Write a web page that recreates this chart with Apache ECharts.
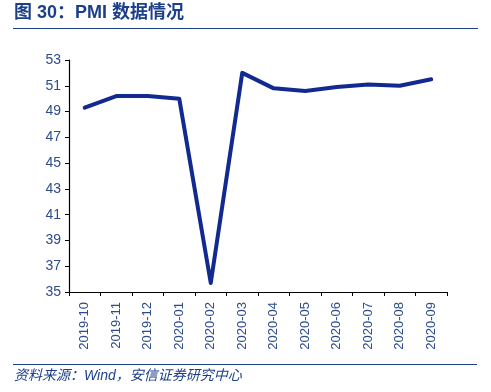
<!DOCTYPE html>
<html><head><meta charset="utf-8">
<script src="https://cdn.jsdelivr.net/npm/echarts@6/dist/echarts.min.js"></script>
<style>html,body{margin:0;padding:0;background:#fff}#c{width:491px;height:392px}</style>
</head><body><div id="c"></div>
<script>
const categories = ['2019-10','2019-11','2019-12','2020-01','2020-02','2020-03','2020-04','2020-05','2020-06','2020-07','2020-08','2020-09'];
const pmi = [49.3, 50.2, 50.2, 50.0, 35.7, 52.0, 50.8, 50.6, 50.9, 51.1, 51.0, 51.5];
const yTicks = [35, 37, 39, 41, 43, 45, 47, 49, 51, 53];
const titleText = '图 30：PMI 数据情况';
const sourceText = '资料来源：Wind，安信证券研究中心';

const chart = echarts.init(document.getElementById('c'), null, {renderer:'canvas'});
chart.setOption({
  animation:false,
  backgroundColor:'#fff',
  graphic:[
    {type:'text', left:14, top:4, style:{text:titleText, font:'bold 18px "Liberation Sans", "Noto Sans CJK SC", sans-serif', fill:'#1b3f8b'}},
    {type:'line', shape:{x1:13,y1:28.5,x2:478,y2:28.5}, style:{stroke:'#1b3f8b', lineWidth:1.2}},
    {type:'line', shape:{x1:13,y1:364.5,x2:477,y2:364.5}, style:{stroke:'#1b3f8b', lineWidth:1.2}},
    {type:'text', left:14, top:369, style:{text:sourceText, font:'italic 14px "Liberation Sans", "Noto Sans CJK SC", sans-serif', fill:'#1b3f8b'}}
  ],
  grid:{left:69, right:44, top:60, bottom:100, containLabel:false},
  xAxis:{
    type:'category', data:categories, boundaryGap:true,
    axisLine:{lineStyle:{color:'#000', width:1.2}},
    axisTick:{show:true, inside:false, length:4, alignWithLabel:false, lineStyle:{color:'#000'}},
    axisLabel:{rotate:90, margin:10, color:'#2c4c8c', fontSize:13, fontFamily:'"Liberation Sans", Arial, sans-serif', interval:0},
    splitLine:{show:false}
  },
  yAxis:{
    type:'value', min:yTicks[0], max:yTicks[yTicks.length-1], interval:2,
    axisLine:{show:true, lineStyle:{color:'#000', width:1.2}},
    axisTick:{show:true, inside:false, length:4, lineStyle:{color:'#000'}},
    axisLabel:{color:'#2c4c8c', fontSize:14, fontFamily:'"Liberation Sans", Arial, sans-serif', margin:8},
    splitLine:{show:false}
  },
  series:[{
    type:'line', data:pmi, symbol:'none', smooth:false,
    lineStyle:{color:'#12298f', width:4, join:'round', cap:'round'}
  }]
});
</script></body></html>
